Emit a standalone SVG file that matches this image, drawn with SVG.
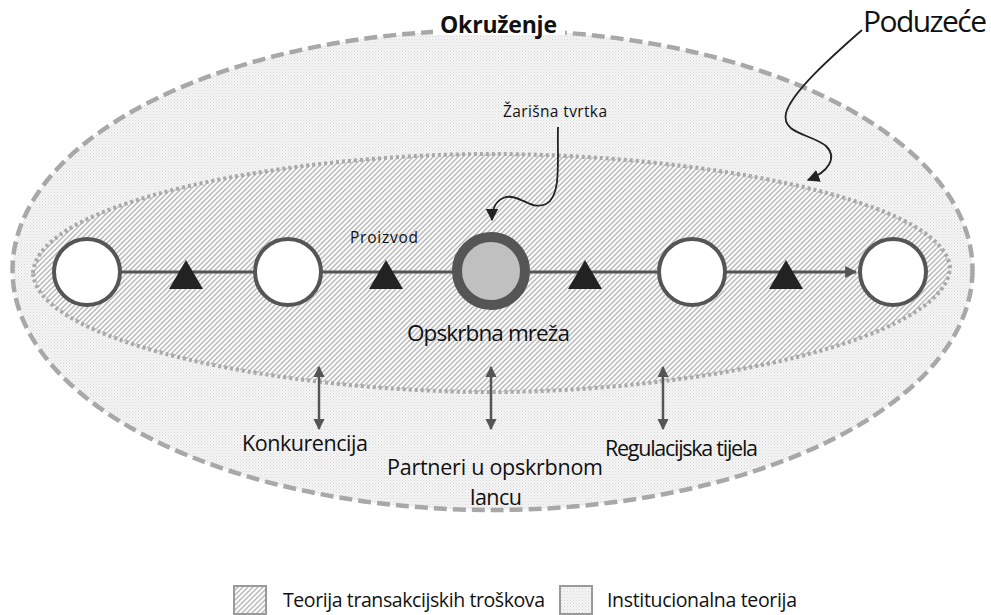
<svg xmlns="http://www.w3.org/2000/svg" width="991" height="615" viewBox="0 0 991 615">
<defs>
  <pattern id="stipple" width="3" height="3" patternUnits="userSpaceOnUse">
    <rect width="3" height="3" fill="#f5f5f5"/>
    <rect x="0" y="0" width="1" height="1" fill="#d6d6d6"/>
    <rect x="1.5" y="1.5" width="1" height="1" fill="#dedede"/>
  </pattern>
  <pattern id="hatch" width="5" height="5" patternUnits="userSpaceOnUse">
    <rect width="5" height="5" fill="#fbfbfb"/>
    <path d="M-1,1 L1,-1 M0,5 L5,0 M4,6 L6,4" stroke="#b8b8b8" stroke-width="1.4"/>
  </pattern>
  <marker id="ah" viewBox="0 0 10 10" refX="9" refY="5" markerWidth="4.5" markerHeight="4.5" orient="auto-start-reverse" markerUnits="strokeWidth">
    <path d="M0,0 L10,5 L0,10 z" fill="#555"/>
  </marker>
  <marker id="ahb" viewBox="0 0 10 10" refX="9" refY="5" markerWidth="7" markerHeight="7" orient="auto" markerUnits="strokeWidth">
    <path d="M0,0 L10,5 L0,10 z" fill="#222"/>
  </marker>
  <marker id="ahs" viewBox="0 0 10 10" refX="9" refY="5" markerWidth="4" markerHeight="4" orient="auto" markerUnits="strokeWidth">
    <path d="M0,0 L10,5 L0,10 z" fill="#555"/>
  </marker>
</defs>
<style>
  text { font-family: "Open Sans", "Noto Sans", "DejaVu Sans", sans-serif; fill: #111; }
  .node { fill: #fff; stroke: #555; stroke-width: 4; }
  .tri { fill: #222; }
  .dbl { stroke: #555; stroke-width: 2.5; fill: none; marker-start: url(#ah); marker-end: url(#ah); }
  .curly { stroke: #222; stroke-width: 1.8; fill: none; marker-end: url(#ahb); }
  .lbl { font-size: 21.5px; }
  .leg { font-size: 19.5px; }
</style>
<rect width="991" height="615" fill="#fff"/>

<g id="okruzenje">
  <ellipse cx="492.5" cy="270" rx="480" ry="240" fill="url(#stipple)" stroke="#a8a8a8" stroke-width="4.5" stroke-dasharray="13 6"/>
  <rect x="433" y="16" width="132" height="19" fill="#fff"/>
  <text x="440" y="33" font-size="23" font-weight="bold" textLength="117">Okruženje</text>
</g>

<g id="poduzece">
  <path d="M33,273 C38,200 290,154 491,154 C700,154 945,200 950,268 C945,340 700,392 491,392 C290,392 38,345 33,273 Z" fill="url(#hatch)" stroke="#a9a9a9" stroke-width="4" stroke-dasharray="3 3"/>
</g>

<g id="connectors">
  <line x1="120" y1="272" x2="256" y2="272" stroke="#555" stroke-width="3"/>
  <line x1="322" y1="272" x2="455" y2="272" stroke="#555" stroke-width="3"/>
  <line x1="528" y1="272" x2="659" y2="272" stroke="#555" stroke-width="3"/>
  <line x1="725" y1="272" x2="856" y2="272" stroke="#555" stroke-width="3" marker-end="url(#ahs)"/>
  <line class="dbl" x1="319" y1="367" x2="319" y2="429"/>
  <line class="dbl" x1="491" y1="367" x2="491" y2="429"/>
  <line class="dbl" x1="663" y1="367" x2="663" y2="429"/>
  <path class="curly" d="M558,127 C557,160 562,196 546,204 C531,211 520,194 506,197 C495,200 492,210 492,220"/>
  <path class="curly" d="M862,30 C830,58 792,92 786,113 C781,134 812,134 826,146 C838,158 828,172 808,180"/>
</g>

<g id="products">
  <polygon class="tri" points="186,260 203,289 169,289"/>
  <polygon class="tri" points="386,260 403,289 369,289"/>
  <polygon class="tri" points="585,260 602,289 568,289"/>
  <polygon class="tri" points="786,260 803,289 769,289"/>
  <text x="350" y="243" font-size="15.5" textLength="68">Proizvod</text>
</g>

<g id="node1"><circle class="node" cx="87" cy="272" r="33"/></g>
<g id="node2"><circle class="node" cx="288" cy="272" r="33"/></g>
<g id="focal">
  <circle cx="491" cy="271" r="34" fill="#c0c0c0" stroke="#555" stroke-width="10"/>
  <text x="503" y="117" font-size="15.5" textLength="104">Žarišna tvrtka</text>
</g>
<g id="node4"><circle class="node" cx="692" cy="272" r="33"/></g>
<g id="node5"><circle class="node" cx="893" cy="272" r="33"/></g>

<g id="labels">
  <text x="407" y="341" font-size="22.5" textLength="163">Opskrbna mreža</text>
  <text x="863" y="32" font-size="30" textLength="124">Poduzeće</text>
  <text class="lbl" x="242" y="451" textLength="126">Konkurencija</text>
  <text class="lbl" x="387" y="475" textLength="216">Partneri u opskrbnom</text>
  <text class="lbl" x="470" y="505" textLength="52">lancu</text>
  <text class="lbl" x="605" y="456" font-size="20" textLength="153">Regulacijska tijela</text>
</g>

<g id="legend">
  <rect x="234" y="586" width="32" height="28" fill="url(#hatch)" stroke="#9a9a9a" stroke-width="2"/>
  <text class="leg" x="283" y="607" textLength="262">Teorija transakcijskih troškova</text>
  <rect x="560" y="586" width="32" height="28" fill="url(#stipple)" stroke="#9a9a9a" stroke-width="2"/>
  <text class="leg" x="607" y="607" textLength="190">Institucionalna teorija</text>
</g>
</svg>
